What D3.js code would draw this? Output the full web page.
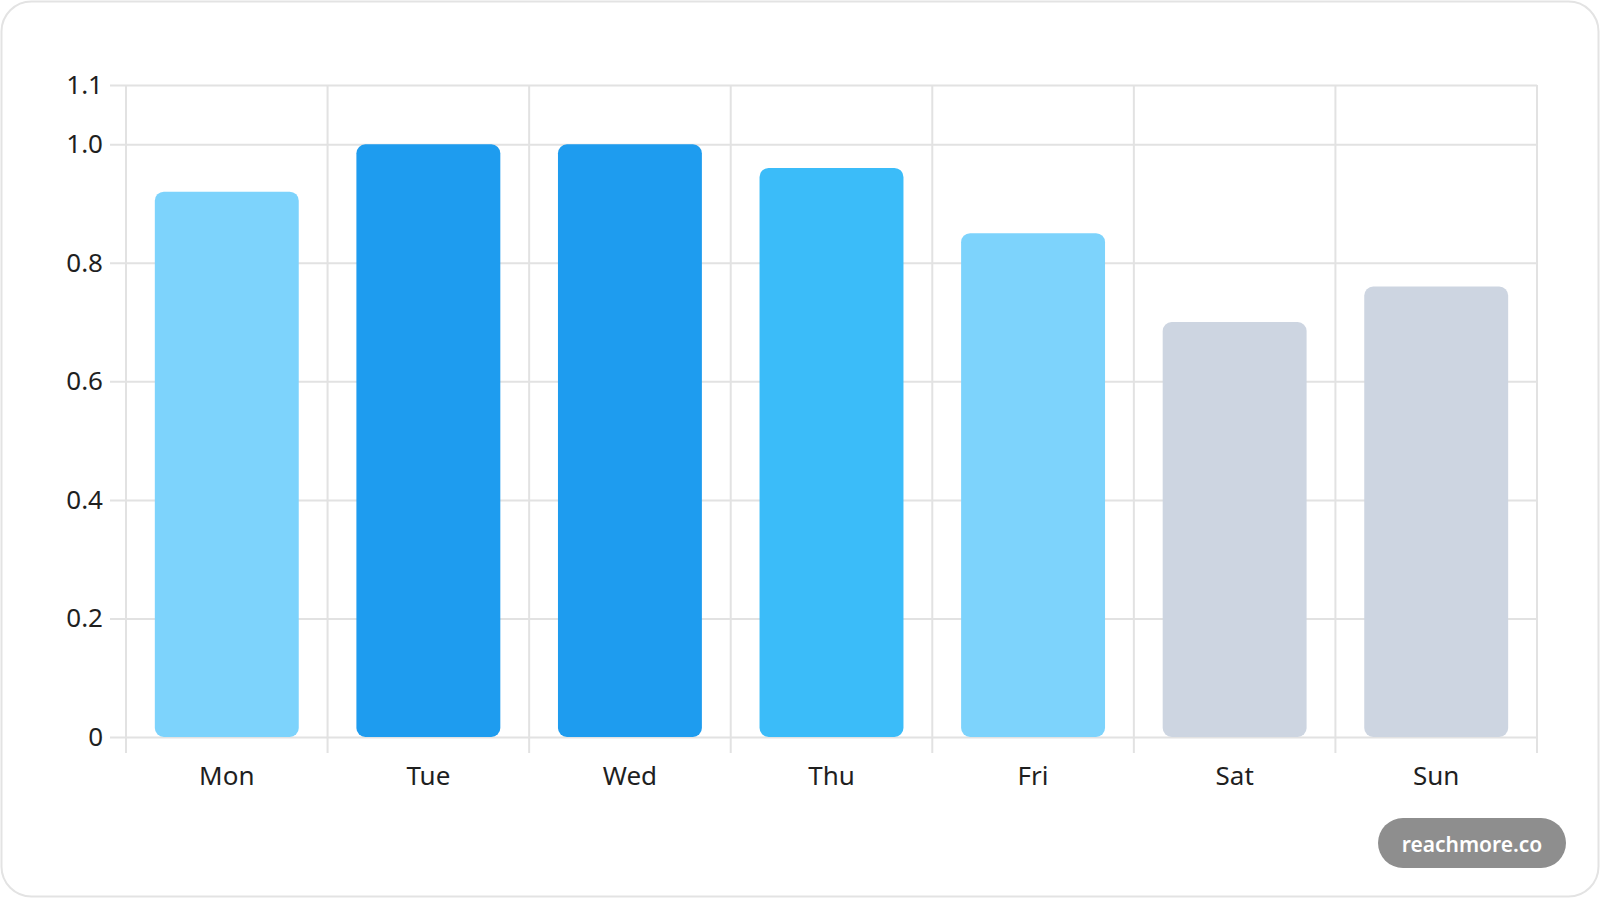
<!DOCTYPE html>
<html>
<head>
<meta charset="utf-8">
<script src="https://cdn.jsdelivr.net/npm/d3@7"></script>
<style>
  html, body { margin: 0; padding: 0; background: #fff; }
  svg { display: block; font-family: "Noto Sans", "Open Sans", sans-serif; }
</style>
</head>
<body>
<svg id="chart" width="1600" height="898"></svg>
<script>
// data
const days = ['Mon', 'Tue', 'Wed', 'Thu', 'Fri', 'Sat', 'Sun'];
const values = [0.92, 1.0, 1.0, 0.96, 0.85, 0.70, 0.76];
const barColors = ['#7dd3fc', '#1e9cef', '#1e9cef', '#3bbcf9', '#7dd3fc', '#cdd5e1', '#cdd5e1'];
const yTicks = [0, 0.2, 0.4, 0.6, 0.8, 1.0, 1.1];
const yTickLabels = ['0', '0.2', '0.4', '0.6', '0.8', '1.0', '1.1'];

const width = 1600;
const height = 898;
const plot = {left: 126, right: 1537, top: 85, bottom: 737};

const svg = d3.select('#chart');

// card background
svg.append('rect')
  .attr('x', 1.5).attr('y', 1.5)
  .attr('width', width - 3).attr('height', height - 3)
  .attr('rx', 30)
  .attr('fill', '#fff')
  .attr('stroke', '#e3e3e3')
  .attr('stroke-width', 2);

const x = d3.scaleBand()
  .domain(days)
  .range([plot.left, plot.right])
  .padding(0);

const y = d3.scaleLinear()
  .domain([0, 1.1])
  .range([plot.bottom, plot.top]);

const gridColor = '#e2e2e2';

// horizontal grid + y ticks
const yAxis = svg.append('g')
  .attr('transform', `translate(${plot.left},0)`)
  .call(d3.axisLeft(y)
    .tickValues(yTicks)
    .tickFormat((d, i) => yTickLabels[i])
    .tickSize(-(plot.right - plot.left))
    .tickPadding(23));

yAxis.select('.domain').remove();
yAxis.selectAll('.tick line')
  .attr('x1', -16)
  .attr('stroke', gridColor)
  .attr('stroke-width', 2);
yAxis.selectAll('.tick text')
  .attr('font-size', 26)
  .attr('fill', '#1f1f1f')
  .attr('font-family', '"Noto Sans", sans-serif');

// vertical grid at band edges
const edges = days.map(d => x(d)).concat([plot.right]);
svg.append('g')
  .selectAll('line')
  .data(edges)
  .join('line')
    .attr('x1', d => d).attr('x2', d => d)
    .attr('y1', plot.top).attr('y2', plot.bottom + 16)
    .attr('stroke', gridColor)
    .attr('stroke-width', 2);

// x labels
const xAxis = svg.append('g')
  .attr('transform', `translate(0,${plot.bottom})`)
  .call(d3.axisBottom(x).tickSize(0).tickPadding(30));
xAxis.select('.domain').remove();
xAxis.selectAll('.tick text')
  .attr('font-size', 26)
  .attr('fill', '#1f1f1f')
  .attr('font-family', '"Noto Sans", sans-serif');

// bars
const barW = x.bandwidth() * 0.714;
svg.append('g')
  .selectAll('rect')
  .data(values)
  .join('rect')
    .attr('x', (d, i) => x(days[i]) + (x.bandwidth() - barW) / 2)
    .attr('y', d => y(d))
    .attr('width', barW)
    .attr('height', d => y(0) - y(d))
    .attr('rx', 9)
    .attr('fill', (d, i) => barColors[i]);

// watermark pill
const wm = svg.append('g').attr('transform', 'translate(1378,818)');
wm.append('rect')
  .attr('width', 188).attr('height', 50)
  .attr('rx', 25)
  .attr('fill', '#8e8e8e');
wm.append('text')
  .attr('x', 94).attr('y', 27)
  .attr('dy', '0.35em')
  .attr('text-anchor', 'middle')
  .attr('font-size', 21)
  .attr('font-weight', 600)
  .attr('fill', '#fff')
  .text('reachmore.co');
</script>
</body>
</html>
